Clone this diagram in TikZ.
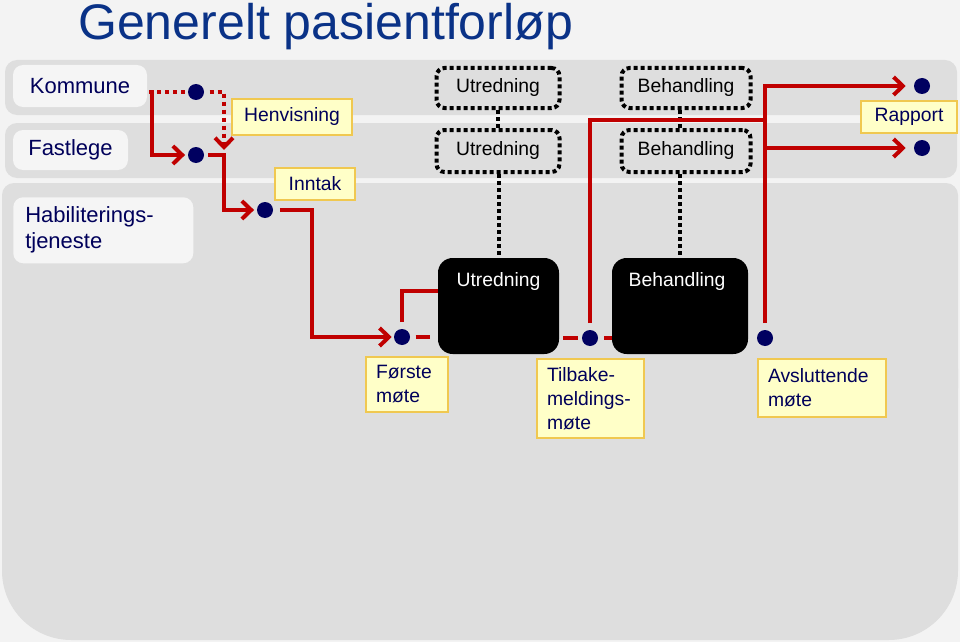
\documentclass[tikz,border=0pt]{standalone}
\usepackage{fontspec}
\setmainfont{Liberation Sans}
\usetikzlibrary{arrows.meta,calc}
\definecolor{pagebg}{RGB}{243,243,243}
\definecolor{lanefill}{RGB}{222,222,222}
\definecolor{boxgray}{RGB}{245,245,245}
\definecolor{navytext}{RGB}{0,0,90}
\definecolor{dotnavy}{RGB}{0,0,96}
\definecolor{titleblue}{RGB}{10,50,135}
\definecolor{myred}{RGB}{192,0,0}
\definecolor{ylfill}{RGB}{255,255,200}
\definecolor{ylborder}{RGB}{240,200,80}
\begin{document}
\begin{tikzpicture}[x=0.75pt,y=-0.75pt,
  lanelabel/.style={fill=boxgray, rounded corners=7.5pt, text=navytext, font=\fontsize{16.5}{19.5}\selectfont, inner sep=0pt},
  ylabel/.style={draw=ylborder, fill=ylfill, line width=1.5pt, text=navytext, font=\fontsize{14.5}{18}\selectfont, inner sep=0pt},
  yltext/.style={ylabel, anchor=north west, align=left, inner xsep=7.5pt},
  dot/.style={circle, fill=dotnavy, minimum size=12pt, inner sep=0pt},
  dotbox/.style={draw=black, line width=3pt, dash pattern=on 3pt off 2.25pt, rounded corners=6pt, font=\fontsize{14.5}{18}\selectfont, inner sep=0pt, minimum height=30pt},
  blackbox/.style={fill=black, rounded corners=11pt, inner sep=0pt, minimum height=72pt},
  whitetext/.style={text=white, font=\fontsize{14.5}{18}\selectfont, inner sep=0pt},
  redline/.style={draw=myred, line width=3pt},
  reddot/.style={redline, dash pattern=on 3pt off 3pt},
  blackdot/.style={draw=black, line width=3pt, dash pattern=on 3pt off 2.25pt},
  arr/.style={-{Straight Barb[length=7pt,width=13.5pt]}}
]
\useasboundingbox (0,0) rectangle (960,642);
\fill[pagebg] (0,0) rectangle (960,642);

% lanes
\fill[lanefill, rounded corners=9pt] (5,60) rectangle (957,115);
\fill[lanefill, rounded corners=9pt] (5,123) rectangle (957,178);
\fill[lanefill, rounded corners=9pt] (2,400) -- (2,183) -- (958,183) -- (958,400) -- cycle;
\fill[lanefill, rounded corners=52pt] (2,300) -- (2,640) -- (958,640) -- (958,300) -- cycle;

% title
\node[anchor=base west, text=titleblue, font=\fontsize{37.5}{40}\selectfont, inner sep=0pt] (title) at (78,40) {Generelt pasientforløp};

% lane labels
\node[lanelabel, minimum width=100.5pt, minimum height=31.5pt] (kom) at (80,86) {Kommune};
\node[lanelabel, minimum width=86.25pt, minimum height=30pt] (fast) at (70.5,150) {Fastlege};
\node[lanelabel, anchor=north west, minimum width=135pt, minimum height=49.5pt, text width=117pt, inner xsep=9pt, align=left] (hab) at (13,197) {Habiliterings-\\tjeneste};

% dots
\node[dot] (d1) at (196,92) {};
\node[dot] (d2) at (196,155) {};
\node[dot] (d3) at (265,210) {};
\node[dot] (d4) at (402,337) {};
\node[dot] (d5) at (590,338) {};
\node[dot] (d6) at (765,338) {};
\node[dot] (r1) at (922,86) {};
\node[dot] (r2) at (922,148) {};

% dotted boxes
\node[dotbox, minimum width=92.25pt] (ut1) at (498,88) {Utredning};
\node[dotbox, minimum width=92.25pt, minimum height=31.5pt] (ut2) at (498,151) {Utredning};
\node[dotbox, minimum width=96.75pt] (be1) at (686,88) {Behandling};
\node[dotbox, minimum width=96.75pt, minimum height=31.5pt] (be2) at (686,151) {Behandling};

% black boxes
\node[blackbox, minimum width=90.75pt] (box1) at (498.5,306) {};
\node[blackbox, minimum width=102pt] (box2) at (680,306) {};
\node[whitetext] (box1t) at ($(box1.north)+(0,24)$) {Utredning};
\node[whitetext] (box2t) at ($(box2.north)+(-3,24)$) {Behandling};

% dotted black connectors
\draw[blackdot] (ut1.south) -- (ut2.north);
\draw[blackdot] (ut2.south -| box1) -- (box1.north);
\draw[blackdot] (be1.south -| box2) -- (be2.north -| box2);
\draw[blackdot] (be2.south -| box2) -- (box2.north);

% yellow labels
\node[ylabel, minimum width=90pt, minimum height=27pt] (henv) at (292,117) {Henvisning};
\node[ylabel, minimum width=60pt, minimum height=24pt] (inn) at (315,184) {Inntak};
\node[ylabel, minimum width=72pt, minimum height=24pt] (rap) at (909,117) {Rapport};
\node[yltext, minimum width=61.5pt, minimum height=41.25pt, text width=46.5pt] (forste) at (365,356) {Første\\møte};
\node[yltext, minimum width=80.25pt, minimum height=59.25pt, text width=65.25pt] (tilb) at (536,358) {Tilbake-\\meldings-\\møte};
\node[yltext, minimum width=96pt, minimum height=43.5pt, text width=81pt] (avsl) at (757,358) {Avsluttende\\møte};

% coordinates
\coordinate (k0) at (149,92);
\coordinate (k1) at (152,92);
\coordinate (j1) at (224,150);
\coordinate (j2) at (224,155);
\coordinate (j3) at (312,210);
\coordinate (b1) at (438,291);
\coordinate (j5) at (765,120);
\coordinate (j6) at (765,148);

% red connectors
\draw[reddot, shorten >=2pt] (k0) -- (d1);
\draw[reddot, arr, shorten <=4pt] (d1) -| (j1);
\draw[redline, arr, shorten >=2pt] (k0) -- (k1) |- (d2);
\draw[redline, arr, shorten <=3pt, shorten >=2pt] (d2) -- (j2) |- (d3);
\draw[redline, arr, shorten <=5pt, shorten >=1.5pt] (d3) -- (j3) |- (d4);
\draw[redline, shorten <=5pt] (d4.north) |- (b1);
\draw[redline, shorten <=4pt, shorten >=6pt] (d4) -- (d4 -| box1.west);
\draw[redline, shorten <=3pt, shorten >=3pt] (box1.east |- d5) -- (d5);
\draw[redline, shorten <=4.5pt] (d5) -- (d5 -| box2.west);
\draw[redline, shorten <=5pt] (d5.north) |- (j5);
\draw[redline, arr, shorten <=5pt, shorten >=6pt] (d6.north) |- (r1);
\draw[redline, arr, shorten >=6pt] (j6) -- (r2);
\end{tikzpicture}
\end{document}
